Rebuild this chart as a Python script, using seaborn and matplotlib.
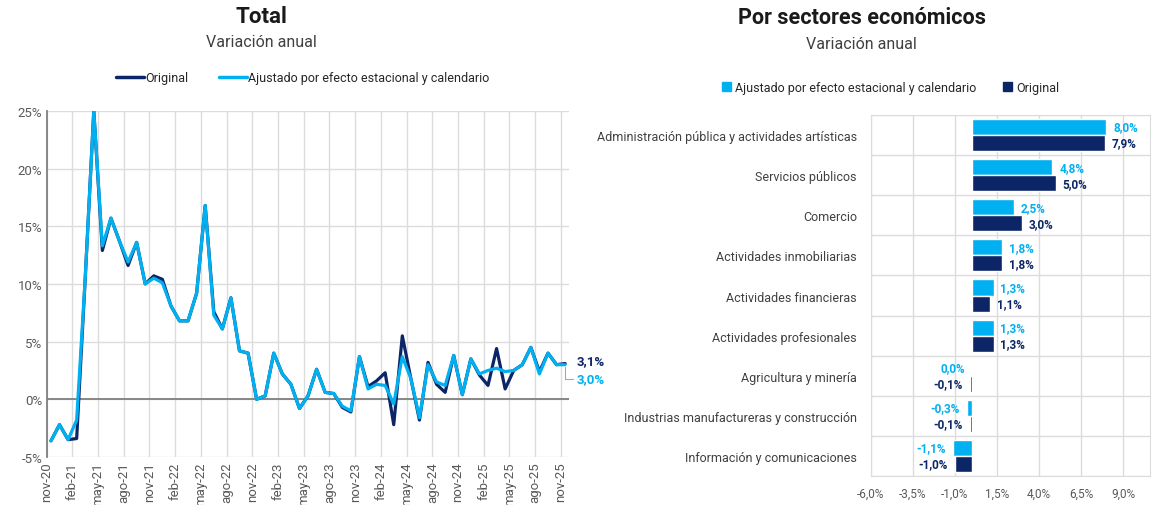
import numpy as np
import pandas as pd
import seaborn as sns
import matplotlib.pyplot as plt

# serie mensual nov-20 ... nov-25 (variación anual, %)
original = [-3.6, -2.2, -3.5, -3.4, 10.5, 25.0, 12.9, 15.7, 13.7, 11.6,
            13.6, 10.0, 10.7, 10.4, 8.1, 6.8, 6.8, 9.2, 16.8, 7.6,
            6.1, 8.8, 4.2, 4.0, 0.0, 0.3, 4.0, 2.2, 1.3, -0.8,
            0.3, 2.6, 0.6, 0.5, -0.7, -1.1, 3.7, 1.1, 1.6, 2.3,
            -2.2, 5.5, 1.8, -1.8, 3.2, 1.3, 0.6, 3.8, 0.4, 3.5,
            2.1, 1.2, 4.4, 0.9, 2.5, 3.0, 4.5, 2.4, 4.0, 3.0, 3.1]
ajustado = [-3.6, -2.2, -3.5, -1.8, 10.5, 25.0, 13.3, 15.7, 13.7, 11.9,
            13.6, 10.0, 10.5, 10.1, 8.1, 6.8, 6.8, 9.2, 16.8, 7.3,
            6.1, 8.8, 4.2, 4.0, 0.0, 0.3, 4.0, 2.2, 1.3, -0.8,
            0.3, 2.6, 0.6, 0.5, -0.6, -1.0, 3.7, 0.9, 1.3, 1.2,
            -0.4, 3.7, 1.8, -1.6, 3.0, 1.5, 1.2, 3.8, 0.4, 3.5,
            2.2, 2.5, 2.7, 2.4, 2.5, 3.0, 4.5, 2.2, 4.0, 3.0, 3.0]
ticks_meses = ["nov-20", "feb-21", "may-21", "ago-21", "nov-21", "feb-22", "may-22",
               "ago-22", "nov-22", "feb-23", "may-23", "ago-23", "nov-23", "feb-24",
               "may-24", "ago-24", "nov-24", "feb-25", "may-25", "ago-25", "nov-25"]

sectores = ["Administración pública y actividades artísticas", "Servicios públicos",
            "Comercio", "Actividades inmobiliarias", "Actividades financieras",
            "Actividades profesionales", "Agricultura y minería",
            "Industrias manufactureras y construcción", "Información y comunicaciones"]
sect_ajustado = [8.0, 4.8, 2.5, 1.8, 1.3, 1.3, 0.0, -0.3, -1.1]
sect_original = [7.9, 5.0, 3.0, 1.8, 1.1, 1.3, -0.1, -0.1, -1.0]

AJ = "Ajustado por efecto estacional y calendario"
OR = "Original"
claro = "#00B0F0"
oscuro = "#0B2566"
gris = "#595959"

sns.set_style("white")
plt.rcParams["font.family"] = ["Roboto", "DejaVu Sans"]

def fmt(v):
    return f"{v:.1f}%".replace(".", ",")

fig = plt.figure(figsize=(11.55, 5.06), dpi=100)

# ---- Total ----
ax1 = fig.add_axes([0.0404, 0.0949, 0.4526, 0.684])
n = len(original)
df1 = pd.DataFrame({
    "pos": list(np.arange(n) + 0.5) * 2,
    "valor": original + ajustado,
    "serie": [OR] * n + [AJ] * n,
})
sns.lineplot(data=df1, x="pos", y="valor", hue="serie", hue_order=[OR, AJ],
             palette=[oscuro, claro], linewidth=2.3, ax=ax1, legend=False,
             solid_joinstyle="round", solid_capstyle="round")
ax1.set_xlim(0, 61)
ax1.set_ylim(-5, 25)
ax1.set_xticks(np.arange(0, 61, 3))
ax1.set_xticklabels(ticks_meses, rotation=90)
ax1.set_yticks(np.arange(-5, 26, 5))
ax1.set_yticklabels([f"{v}%" for v in range(-5, 26, 5)])
ax1.grid(True, color="#dcdcdc", linewidth=1)
ax1.set_axisbelow(True)
ax1.axhline(0, color="#7f7f7f", linewidth=1.3, zorder=1)
for s in ["top", "right", "bottom"]:
    ax1.spines[s].set_visible(False)
ax1.spines["left"].set_color("#7f7f7f")
ax1.spines["left"].set_linewidth(1.3)
ax1.tick_params(length=0, labelsize=9.5, colors=gris, pad=3)
ax1.set_xlabel("")
ax1.set_ylabel("")

ax1.annotate(fmt(original[-1]), (n - 0.5, original[-1]), xytext=(8, 2),
             textcoords="offset points", color=oscuro, fontsize=9.5,
             fontweight="bold", ha="left", va="center", annotation_clip=False)
ax1.annotate(fmt(ajustado[-1]), (n - 0.5, ajustado[-1]), xytext=(8, -10),
             textcoords="offset points", color=claro, fontsize=9.5,
             fontweight="bold", ha="left", va="center", annotation_clip=False,
             arrowprops=dict(arrowstyle="-", color="#a6a6a6", lw=0.8,
                             connectionstyle="angle,angleA=0,angleB=90,rad=0",
                             shrinkA=0, shrinkB=2))

h1 = [plt.Line2D([], [], color=oscuro, lw=2.5), plt.Line2D([], [], color=claro, lw=2.5)]
fig.legend(h1, [OR, AJ], loc="center", bbox_to_anchor=(0.262, 0.844), ncol=2,
           frameon=False, fontsize=9, handlelength=2.2, handletextpad=0.1,
           columnspacing=2.5)

fig.text(0.226, 0.966, "Total", ha="center", va="center", fontsize=16,
         fontweight="bold", color="#1a1a1a")
fig.text(0.226, 0.916, "Variación anual", ha="center", va="center",
         fontsize=11.5, color="#404040")

# ---- Por sectores ----
ax2 = fig.add_axes([0.7538, 0.0573, 0.2419, 0.7134])
df2 = pd.DataFrame({
    "sector": sectores * 2,
    "valor": sect_ajustado + sect_original,
    "serie": [AJ] * len(sectores) + [OR] * len(sectores),
})
sns.barplot(data=df2, y="sector", x="valor", hue="serie", hue_order=[AJ, OR],
            palette=[claro, oscuro], orient="h", width=0.8, ax=ax2,
            saturation=1, legend=False)
ax2.set_xlim(-6, 10.6)
ax2.set_ylim(8.5, -0.5)
ax2.set_xticks(np.arange(-6, 10, 2.5))
ax2.set_xticklabels([fmt(v) for v in np.arange(-6, 10, 2.5)])
ax2.set_yticks(np.arange(-0.5, 9, 1), minor=True)
ax2.grid(True, axis="x", color="#dcdcdc", linewidth=1)
ax2.grid(True, axis="y", which="minor", color="#dcdcdc", linewidth=1)
ax2.grid(False, axis="y", which="major")
ax2.set_axisbelow(True)
for s in ax2.spines.values():
    s.set_color("#dcdcdc")
ax2.tick_params(which="both", length=0, labelsize=9, colors=gris)
ax2.tick_params(axis="x", labelsize=8.5, pad=8)
ax2.tick_params(axis="y", pad=10, labelcolor="#404040")
ax2.set_xlabel("")
ax2.set_ylabel("")

for cont, vals, col in zip(ax2.containers, [sect_ajustado, sect_original], [claro, oscuro]):
    for bar, v in zip(cont, vals):
        yc = bar.get_y() + bar.get_height() / 2
        if v > 0:
            ax2.annotate(fmt(v), (v, yc), xytext=(5, 0), textcoords="offset points",
                         ha="left", va="center", color=col, fontsize=8.5, fontweight="bold")
        else:
            ax2.annotate(fmt(v), (min(v, 0), yc), xytext=(-5, 0), textcoords="offset points",
                         ha="right", va="center", color=col, fontsize=8.5, fontweight="bold")

h2 = [plt.Rectangle((0, 0), 1, 1, color=claro), plt.Rectangle((0, 0), 1, 1, color=oscuro)]
fig.legend(h2, [AJ, OR], loc="center", bbox_to_anchor=(0.771, 0.826), ncol=2,
           frameon=False, fontsize=9, handlelength=0.7, handleheight=0.7,
           handletextpad=0.3, columnspacing=2.2)

fig.text(0.746, 0.964, "Por sectores económicos", ha="center", va="center",
         fontsize=15.5, fontweight="bold", color="#1a1a1a")
fig.text(0.746, 0.913, "Variación anual", ha="center", va="center",
         fontsize=11.5, color="#404040")

fig.savefig("out.png", dpi=100)
